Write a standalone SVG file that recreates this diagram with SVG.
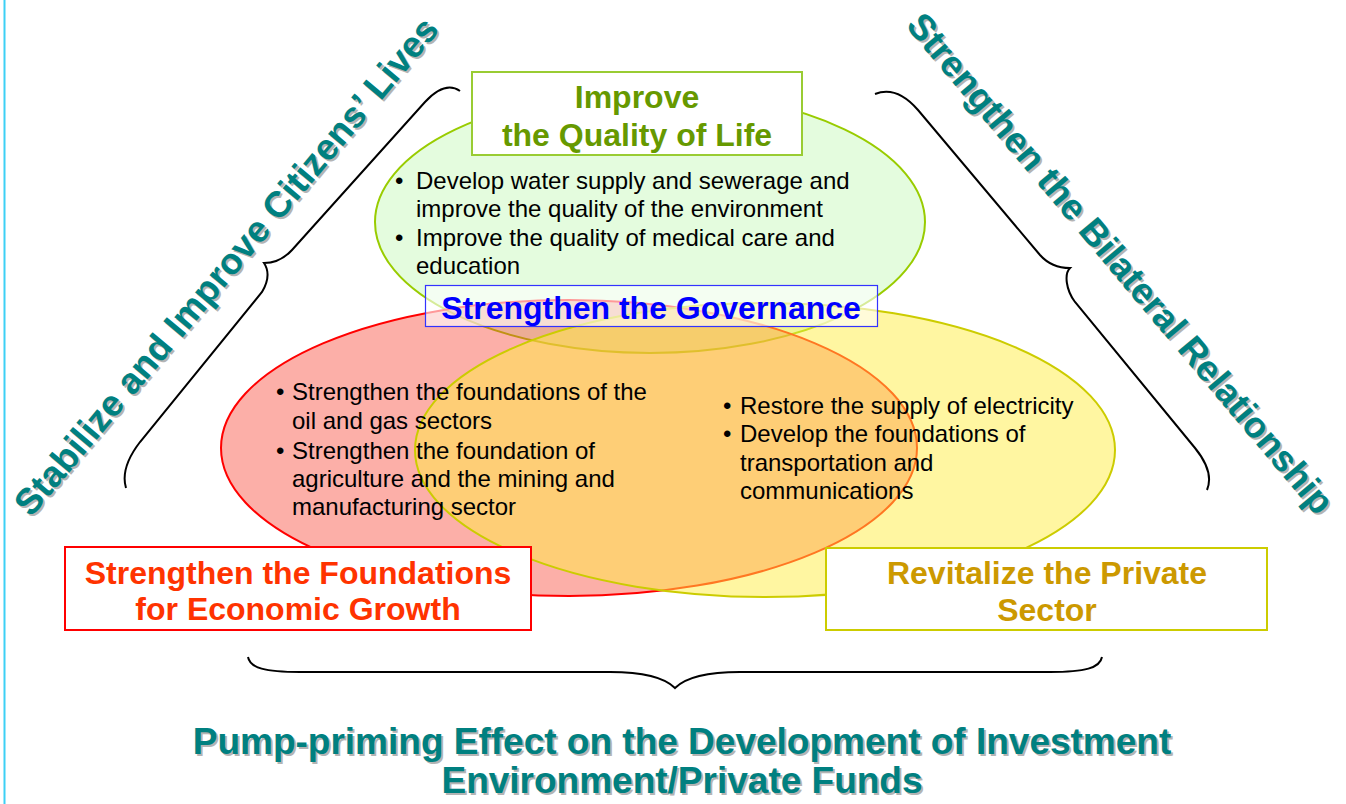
<svg xmlns="http://www.w3.org/2000/svg" width="1346" height="804" viewBox="0 0 1346 804">
<style>
.t{font-family:"Liberation Sans",Arial,sans-serif;font-weight:bold;font-size:32px;text-anchor:middle}
.b{font-family:"Liberation Sans",Arial,sans-serif;font-size:24px;fill:#000}
.tl{font-family:"Liberation Sans",Arial,sans-serif;font-weight:bold;font-size:36.5px;fill:#008080}
.sh{fill:#B4B4B4}
.bt{font-size:37px;text-anchor:middle}
.br{fill:none;stroke:#000;stroke-width:2}
</style>
<rect width="1346" height="804" fill="#fff"/>
<line x1="4.5" y1="0" x2="4.5" y2="804" stroke="#3CD0F5" stroke-width="2"/>

<g id="ellipse-quality">
<ellipse cx="650" cy="222" rx="275" ry="131" fill="#E4FCDE" stroke="#99CC00" stroke-width="2"/>
</g>
<g id="ellipse-economic">
<ellipse cx="569" cy="448" rx="348" ry="148" fill="#F84030" fill-opacity="0.42" stroke="#FF0000" stroke-width="2"/>
</g>
<g id="ellipse-private">
<ellipse cx="765" cy="450" rx="350" ry="147" fill="#FFEE44" fill-opacity="0.5" stroke="#CCCC00" stroke-width="2"/>
</g>

<g id="connectors">
<path class="br" d="M460 91 C450 84 438 88 425 102 L292 250 Q280 263 264 263 Q272 275 262 292 L140 442 Q120 468 126 488"/>
<path class="br" d="M875 94 C890 88 905 95 918 110 L1040 255 C1048 264 1058 268 1070 268 C1064 274 1066 290 1075 302 L1195 448 C1208 464 1212 478 1207 490"/>
<path class="br" d="M248 657 C250 668 265 672 300 672 L610 672 C645 672 665 678 675 688 C685 678 705 672 740 672 L1050 672 C1085 672 1100 668 1102 657"/>
</g>

<g id="node-quality">
<rect x="472" y="72" width="330" height="83" fill="#fff" stroke="#99CC33" stroke-width="2"/>
<text class="t" x="637" y="108" fill="#669900">Improve</text>
<text class="t" x="637" y="146" fill="#669900">the Quality of Life</text>
<text class="b" x="395" y="189">•</text>
<text class="b" x="416" y="189">Develop water supply and sewerage and</text>
<text class="b" x="416" y="217">improve the quality of the environment</text>
<text class="b" x="395" y="246">•</text>
<text class="b" x="416" y="246">Improve the quality of medical care and</text>
<text class="b" x="416" y="274">education</text>
</g>

<g id="node-governance">
<rect x="425.5" y="285.5" width="452" height="41" fill="#fff" fill-opacity="0.6" stroke="#3333FF" stroke-width="1.2"/>
<text class="t" x="651" y="319" fill="#0000FF">Strengthen the Governance</text>
</g>

<g id="node-economic">
<rect x="65" y="547" width="466" height="83" fill="#fff" stroke="#FF0000" stroke-width="2"/>
<text class="t" x="298" y="584" fill="#FF3300">Strengthen the Foundations</text>
<text class="t" x="298" y="620" fill="#FF3300">for Economic Growth</text>
<text class="b" x="276" y="400">•</text>
<text class="b" x="292" y="400">Strengthen the foundations of the</text>
<text class="b" x="292" y="429">oil and gas sectors</text>
<text class="b" x="276" y="459">•</text>
<text class="b" x="292" y="459">Strengthen the foundation of</text>
<text class="b" x="292" y="487">agriculture and the mining and</text>
<text class="b" x="292" y="515">manufacturing sector</text>
</g>

<g id="node-private">
<rect x="826" y="548" width="441" height="82" fill="#fff" stroke="#CCCC00" stroke-width="2"/>
<text class="t" x="1047" y="584" fill="#CC9900">Revitalize the Private</text>
<text class="t" x="1047" y="621" fill="#CC9900">Sector</text>
<text class="b" x="723" y="414">•</text>
<text class="b" x="740" y="414">Restore the supply of electricity</text>
<text class="b" x="723" y="442">•</text>
<text class="b" x="740" y="442">Develop the foundations of</text>
<text class="b" x="740" y="471">transportation and</text>
<text class="b" x="740" y="499">communications</text>
</g>

<g id="label-citizens">
<text class="tl sh" transform="translate(33,520) rotate(-50)">Stabilize and Improve Citizens’ Lives</text>
<text class="tl" transform="translate(31,518) rotate(-50)">Stabilize and Improve Citizens’ Lives</text>
</g>
<g id="label-bilateral">
<text class="tl sh" transform="translate(907,28) rotate(50)">Strengthen the Bilateral Relationship</text>
<text class="tl" transform="translate(905,26) rotate(50)">Strengthen the Bilateral Relationship</text>
</g>
<g id="label-pump">
<text class="tl sh bt" x="684" y="756">Pump-priming Effect on the Development of Investment</text>
<text class="tl bt" x="682" y="754">Pump-priming Effect on the Development of Investment</text>
<text class="tl sh bt" x="684" y="795">Environment/Private Funds</text>
<text class="tl bt" x="682" y="793">Environment/Private Funds</text>
</g>
</svg>
